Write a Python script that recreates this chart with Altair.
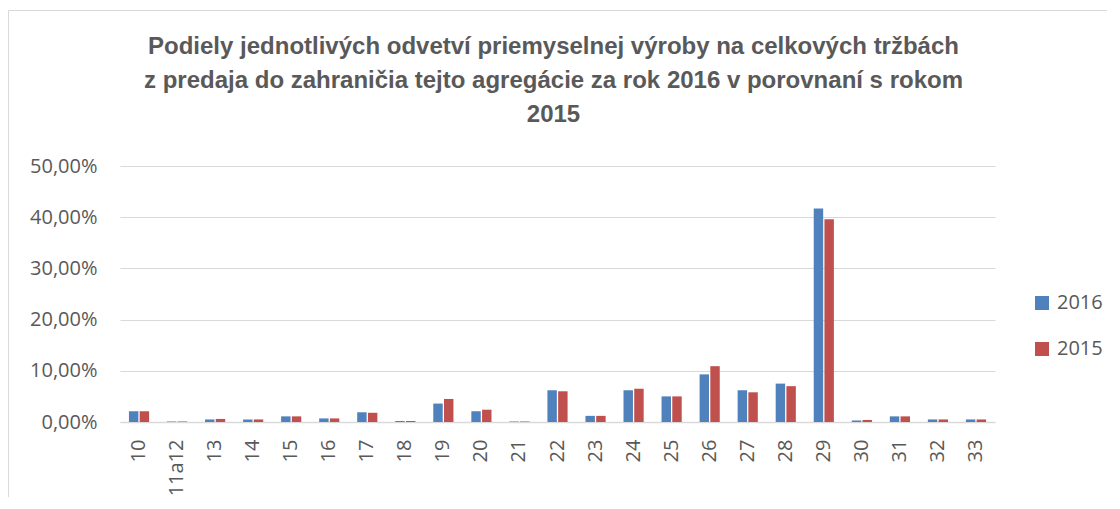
import altair as alt
import pandas as pd

categories = ["10", "11a12", "13", "14", "15", "16", "17", "18", "19", "20", "21",
              "22", "23", "24", "25", "26", "27", "28", "29", "30", "31", "32", "33"]
share_2016 = [2.1, 0.1, 0.5, 0.5, 1.1, 0.7, 1.9, 0.2, 3.6, 2.1, 0.1,
              6.2, 1.2, 6.2, 5.0, 9.3, 6.2, 7.5, 41.7, 0.3, 1.1, 0.5, 0.5]
share_2015 = [2.1, 0.1, 0.6, 0.5, 1.1, 0.7, 1.8, 0.2, 4.5, 2.4, 0.1,
              6.0, 1.2, 6.5, 5.0, 10.9, 5.8, 7.0, 39.6, 0.4, 1.1, 0.5, 0.5]
years = ["2016", "2015"]
colors = ["#4F81BD", "#C0504D"]
title_lines = [
    "Podiely jednotlivých odvetví priemyselnej výroby na celkových tržbách",
    "z predaja do zahraničia tejto agregácie za rok 2016 v porovnaní s rokom",
    "2015",
]

rows = []
for c, a, b in zip(categories, share_2016, share_2015):
    rows.append({"odvetvie": c, "rok": "2016", "podiel": a / 100})
    rows.append({"odvetvie": c, "rok": "2015", "podiel": b / 100})
df = pd.DataFrame(rows)

TXT = "#595959"
FONT = "Open Sans"

bars = alt.Chart(df).mark_bar().encode(
    x=alt.X("odvetvie:N", sort=categories,
            scale=alt.Scale(paddingInner=0.47, paddingOuter=0.235),
            axis=alt.Axis(title=None, labelAngle=-90, labelFontSize=20, labelFont=FONT,
                          labelColor=TXT, ticks=False, tickSize=0, labelPadding=17,
                          domainColor="#d9d9d9", domainWidth=1.5, grid=False)),
    xOffset=alt.XOffset("rok:N", sort=years, scale=alt.Scale(paddingInner=0.12)),
    y=alt.Y("podiel:Q", scale=alt.Scale(domain=[0, 0.5]),
            axis=alt.Axis(title=None, values=[0, 0.1, 0.2, 0.3, 0.4, 0.5],
                          labelExpr="replace(format(datum.value, '.2%'), '.', ',')",
                          labelFontSize=20, labelFont=FONT, labelColor=TXT,
                          ticks=False, tickSize=0, labelPadding=23, domain=False,
                          gridColor="#d9d9d9", gridWidth=1)),
    color=alt.Color("rok:N", sort=years,
                    scale=alt.Scale(domain=years, range=colors),
                    legend=alt.Legend(title=None, orient="none", legendX=912, legendY=127,
                                      symbolType="square", symbolSize=196,
                                      symbolStrokeWidth=0, labelFontSize=20,
                                      labelFont=FONT, labelColor=TXT, rowPadding=26,
                                      labelOffset=5)),
)

frame = alt.Chart(pd.DataFrame({"a": [0]})).mark_rect(
    fillOpacity=0, stroke="#d9d9d9", strokeWidth=1
).encode(x=alt.value(-111.5), x2=alt.value(1100), y=alt.value(-155.5), y2=alt.value(400))

chart = alt.layer(frame, bars).properties(
    width=875,
    height=256,
    autosize=alt.AutoSizeParams(type="none"),
    padding={"left": 112, "top": 158, "right": 112, "bottom": 75},
    title=alt.TitleParams(text=title_lines, fontSize=24, fontWeight="bold",
                          font="Liberation Sans", color=TXT, lineHeight=34,
                          anchor="middle", frame="group", offset=-117, dx=-4),
).configure_view(stroke=None)

chart.save("out.html", embed_options={"renderer": "svg", "actions": False})
